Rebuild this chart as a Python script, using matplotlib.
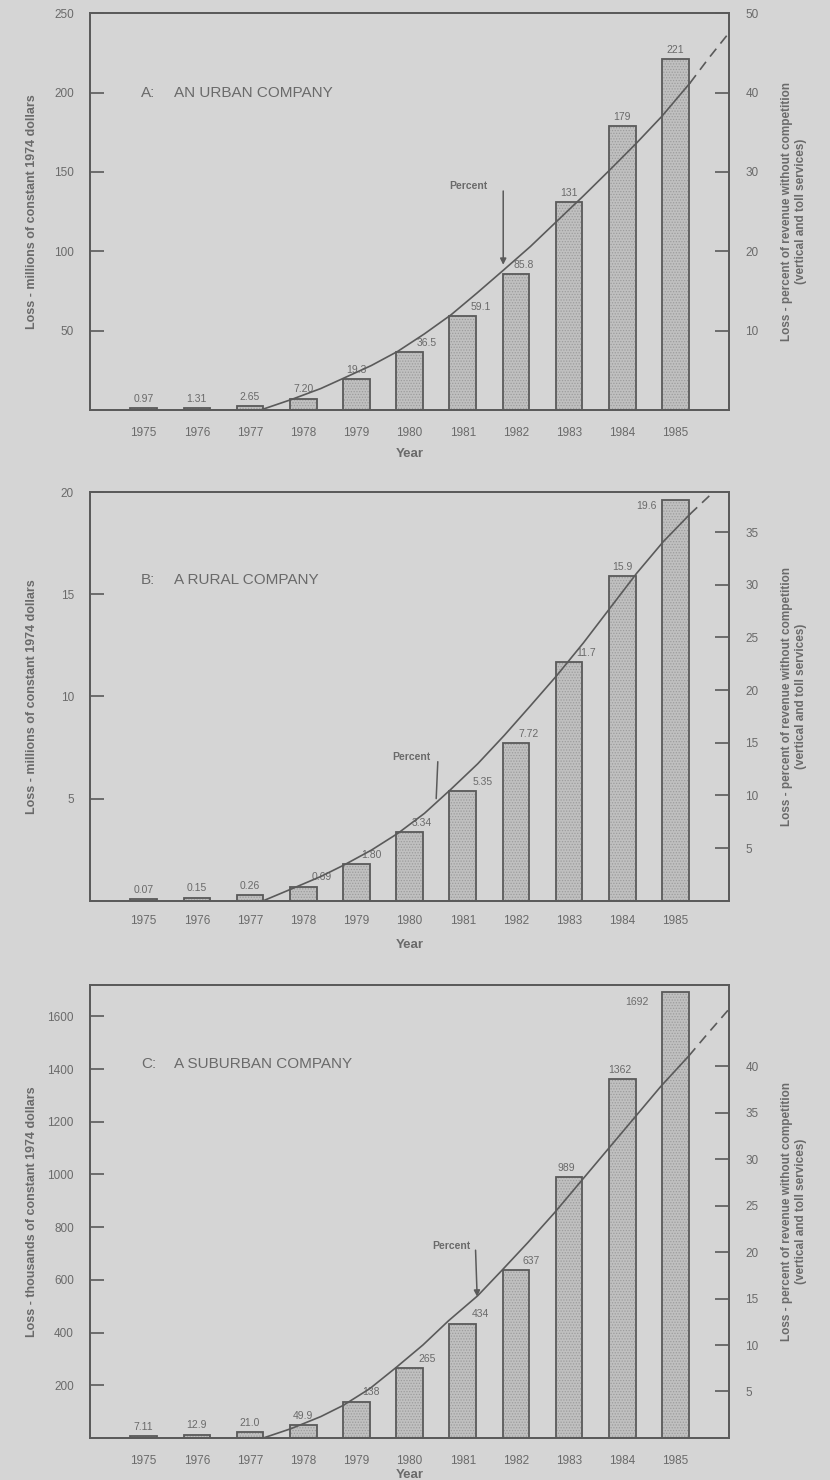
import matplotlib.pyplot as plt

# ---- data ----
years = [1975, 1976, 1977, 1978, 1979, 1980, 1981, 1982, 1983, 1984, 1985]

urban_loss = [0.97, 1.31, 2.65, 7.20, 19.3, 36.5, 59.1, 85.8, 131, 179, 221]
urban_text = ["0.97", "1.31", "2.65", "7.20", "19.3", "36.5", "59.1", "85.8", "131", "179", "221"]
rural_loss = [0.07, 0.15, 0.26, 0.69, 1.80, 3.34, 5.35, 7.72, 11.7, 15.9, 19.6]
rural_text = ["0.07", "0.15", "0.26", "0.69", "1.80", "3.34", "5.35", "7.72", "11.7", "15.9", "19.6"]
suburban_loss = [7.11, 12.9, 21.0, 49.9, 138, 265, 434, 637, 989, 1362, 1692]
suburban_text = ["7.11", "12.9", "21.0", "49.9", "138", "265", "434", "637", "989", "1362", "1692"]

# percent-of-revenue curves (solid part, then the dashed extension)
urban_pct_x = [1977.2, 1977.77, 1978.33, 1978.79, 1979.28, 1979.78, 1980.28, 1980.78, 1981.26,
               1981.76, 1982.27, 1982.77, 1983.27, 1983.77, 1984.26, 1984.74, 1985.27]
urban_pct_y = [0, 1.3, 2.7, 4.1, 5.6, 7.4, 9.6, 12.0, 14.7, 17.6, 20.6, 23.8, 27.0, 30.3, 33.6, 37.0, 41.2]
urban_dash_x = [1985.27, 1985.63, 1986.0]
urban_dash_y = [41.2, 44.4, 47.5]

rural_pct_x = [1977.25, 1977.77, 1978.33, 1978.77, 1979.28, 1979.78, 1980.28, 1980.78, 1981.28,
               1981.78, 1982.27, 1982.77, 1983.27, 1983.77, 1984.27, 1984.77, 1985.27]
rural_pct_y = [0, 1.1, 2.3, 3.4, 4.8, 6.4, 8.3, 10.6, 13.0, 15.7, 18.5, 21.4, 24.5, 27.8, 31.1, 34.1, 36.7]
rural_dash_x = [1985.27, 1985.71]
rural_dash_y = [36.7, 38.8]

suburban_pct_x = [1977.25, 1977.77, 1978.33, 1978.75, 1979.25, 1979.75, 1980.25, 1980.73, 1981.28,
                  1981.73, 1982.22, 1982.72, 1983.22, 1983.72, 1984.22, 1984.72, 1985.25]
suburban_pct_y = [0, 1.0, 2.3, 3.5, 5.3, 7.6, 10.0, 12.6, 15.3, 18.0, 21.0, 24.2, 27.6, 31.0, 34.4, 37.8, 41.1]
suburban_dash_x = [1985.25, 1985.62, 1986.0]
suburban_dash_y = [41.1, 43.6, 46.1]

BG = "#d5d5d5"
INK = "#5a5a5a"
TXT = "#6a6a6a"
plt.rcParams['font.family'] = ['Liberation Sans', 'DejaVu Sans']
plt.rcParams['hatch.linewidth'] = 0.6

fig = plt.figure(figsize=(8.3, 14.8), dpi=100, facecolor=BG)


def panel(rect, loss, texts, lab_dx, lab_dy, ylim, lticks, rlim, rticks,
          px, py, dx, dy, letter, name, title_y, arrow, ylabel, year_pad, xlab_pad):
    ax = fig.add_axes(rect)
    ax.set_facecolor(BG)
    ax.bar(years, loss, width=0.5, color="#c0c0c0", edgecolor="#9c9c9c",
           linewidth=0, hatch="......", zorder=2)
    ax.bar(years, loss, width=0.5, fill=False, edgecolor=INK, linewidth=1.3, zorder=3)
    for x, v, t, ddx, ddy in zip(years, loss, texts, lab_dx, lab_dy):
        ax.annotate(t, (x + ddx, v), xytext=(0, ddy), textcoords="offset points",
                    ha="center", va="bottom", fontsize=7.5, color=TXT)
    ax.set_xlim(1974, 1986)
    ax.set_ylim(*ylim)
    ax.set_xticks(years)
    ax.set_yticks(lticks)
    ax.tick_params(axis="x", length=0, pad=year_pad, labelsize=8.5, labelcolor=TXT)
    ax.tick_params(axis="y", direction="in", length=10, width=1.2, color=INK,
                   labelsize=8.5, labelcolor=TXT, pad=12)
    for s in ax.spines.values():
        s.set_color(INK)
        s.set_linewidth(1.3)
    ax.set_xlabel("Year", fontsize=9.5, color=TXT, fontweight="bold", labelpad=xlab_pad)
    ax.set_ylabel(ylabel, fontsize=9, color=TXT, fontweight="bold")
    ax.yaxis.set_label_coords(-0.082, 0.5)
    ax.text(1974.95, title_y, letter, fontsize=11, color=TXT, va="center")
    ax.text(1975.57, title_y, name, fontsize=11, color=TXT, va="center")

    ax2 = ax.twinx()
    ax2.set_ylim(*rlim)
    ax2.set_yticks(rticks)
    ax2.tick_params(axis="y", direction="in", length=10, width=1.2, color=INK,
                    labelsize=8.5, labelcolor=TXT, pad=12)
    for s in ax2.spines.values():
        s.set_color(INK)
        s.set_linewidth(1.3)
    ax2.plot(px, py, color=INK, linewidth=1.2, zorder=4)
    ax2.plot(dx, dy, color=INK, linewidth=1.2, linestyle=(0, (6, 4)), zorder=4)
    ax2.set_ylabel("Loss - percent of revenue without competition\n(vertical and toll services)",
                   fontsize=8.5, color=TXT, fontweight="bold")
    ax2.yaxis.set_label_coords(1.082, 0.5)

    tx, ty, ax0, ay0, ax1, ay1, head = arrow
    ax2.text(tx, ty, "Percent", fontsize=7.5, color=TXT, fontweight="bold",
             ha="center", va="center")
    ax2.annotate("", xy=(ax1, ay1), xytext=(ax0, ay0),
                 arrowprops=dict(arrowstyle="-|>" if head else "-", color=INK,
                                 lw=1.1, mutation_scale=9, shrinkA=0, shrinkB=0))
    return ax


W = 0.769
L = 0.109

panel([L, 0.7230, W, 0.268], urban_loss, urban_text,
      [0, 0, 0, 0, 0, 0.33, 0.33, 0.15, 0, 0, 0], [3] * 11,
      (0, 250), [50, 100, 150, 200, 250], (0, 50), [10, 20, 30, 40, 50],
      urban_pct_x, urban_pct_y, urban_dash_x, urban_dash_y,
      "A:", "AN URBAN COMPANY", 200,
      (1981.1, 28.2, 1981.76, 27.6, 1981.76, 18.3, True),
      "Loss - millions of constant 1974 dollars", 12, 7)

panel([L, 0.3914, W, 0.2761], rural_loss, rural_text,
      [0, 0, 0, 0.34, 0.28, 0.23, 0.38, 0.23, 0.32, 0, -0.55],
      [3, 3, 3, 3, 3, 3, 3, 3, 3, 3, -8],
      (0, 20), [5, 10, 15, 20], (0, 38.8), [5, 10, 15, 20, 25, 30, 35],
      rural_pct_x, rural_pct_y, rural_dash_x, rural_dash_y,
      "B:", "A RURAL COMPANY", 15.7,
      (1980.03, 13.6, 1980.53, 13.2, 1980.5, 9.7, False),
      "Loss - millions of constant 1974 dollars", 10, 9)

panel([L, 0.0284, W, 0.3059], suburban_loss, suburban_text,
      [0, 0, 0, 0, 0.28, 0.33, 0.33, 0.28, -0.05, -0.05, -0.73],
      [3, 3, 3, 3, 3, 3, 3, 3, 3, 3, -11],
      (0, 1718), [200, 400, 600, 800, 1000, 1200, 1400, 1600], (0, 48.7),
      [5, 10, 15, 20, 25, 30, 35, 40],
      suburban_pct_x, suburban_pct_y, suburban_dash_x, suburban_dash_y,
      "C:", "A SUBURBAN COMPANY", 1419,
      (1980.78, 20.6, 1981.24, 20.2, 1981.27, 15.2, True),
      "Loss - thousands of constant 1974 dollars", 12, 2)

fig.savefig("out.png", dpi=100, facecolor=BG)
